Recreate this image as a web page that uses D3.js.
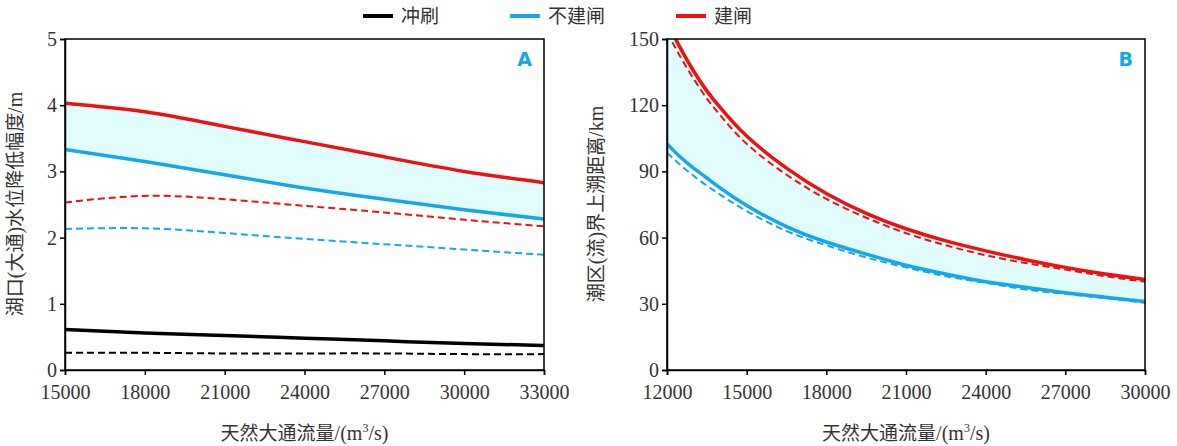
<!DOCTYPE html><html><head><meta charset="utf-8">
<script src="https://cdn.jsdelivr.net/npm/d3@7"></script>
<style>body{margin:0;background:#fff}</style></head><body>
<svg id="c" width="1177" height="446" font-family="Liberation Serif"></svg>
<script>
const xA=[15000,18000,21000,24000,27000,30000,33000];
const aRedSolid=[4.03,3.9,3.68,3.45,3.22,3.0,2.83];
const aBlueSolid=[3.33,3.15,2.95,2.75,2.58,2.42,2.28];
const aRedDash=[2.53,2.63,2.58,2.48,2.38,2.27,2.17];
const aBlueDash=[2.13,2.14,2.07,1.98,1.90,1.82,1.74];
const aBlackSolid=[0.61,0.56,0.52,0.48,0.44,0.40,0.37];
const aBlackDash=[0.26,0.26,0.25,0.25,0.25,0.24,0.24];
const xB=[12000,12500,13000,13500,14000,15000,16500,18000,19500,21000,22500,24000,25500,27000,28500,30000];
const bRedSolid=[157.5,146,135.5,126.5,119,106,91.5,80,71,64,58.5,54,50,46.5,43.5,41];
const bRedDash=[153,142,132,123,115.5,102.5,88.5,77.5,69,62,56.5,52,48.5,45.5,42.5,40];
const bBlueSolid=[102.5,96.5,91.5,87,82.5,74.5,65,58,52.5,47.5,43.5,40,37.5,35,33,31];
const bBlueDash=[98.5,93,88,83.5,79.5,72,63,56.5,51,46.5,42.5,39.5,36.5,34.5,32.5,30.5];
const ticksA=[15000,18000,21000,24000,27000,30000,33000];
const ticksB=[12000,15000,18000,21000,24000,27000,30000];
const RED="#ee1111",BLUE="#14a8e6",BLACK="#000";
const svg=d3.select("#c");
const cjk='"Noto Sans CJK SC",sans-serif';
function panel(o){
  const g=svg.append("g");
  const x=d3.scaleLinear().domain(o.xd).range([o.l,o.r]);
  const y=d3.scaleLinear().domain(o.yd).range([370,39]);
  const id="clip"+o.label;
  svg.append("clipPath").attr("id",id).append("rect").attr("x",o.l).attr("y",39).attr("width",o.r-o.l).attr("height",331);
  const pg=g.append("g").attr("clip-path",`url(#${id})`);
  const cur=d3.curveNatural;
  const area=d3.area().x((d,i)=>x(o.xs[i])).y0((d,i)=>y(o.band[1][i])).y1((d,i)=>y(o.band[0][i])).curve(cur);
  pg.append("path").attr("d",area(o.xs)).attr("fill","#e0fcfd");
  o.lines.forEach(L=>{
    const line=d3.line().x((d,i)=>x(o.xs[i])).y(d=>y(d)).curve(cur);
    pg.append("path").attr("d",line(L.v)).attr("fill","none").attr("stroke",L.c).attr("stroke-width",L.dash?2:3.5).attr("stroke-dasharray",L.dash?"7,4":null);
  });
  g.append("rect").attr("x",o.l).attr("y",39).attr("width",o.r-o.l).attr("height",331).attr("fill","none").attr("stroke","#000").attr("stroke-width",1.5);
  const ax=g.append("g").attr("transform","translate(0,370)").call(d3.axisBottom(x).tickValues(o.ticks).tickSize(5).tickFormat(d3.format("d")));
  const ay=g.append("g").attr("transform",`translate(${o.l},0)`).call(d3.axisLeft(y).tickValues(o.yt).tickSize(5).tickFormat(d3.format("d")));
  [ax,ay].forEach(a=>{a.attr("font-family",null).attr("font-size",null);a.select(".domain").attr("stroke","#000").attr("stroke-width",1.5);a.selectAll("line").attr("stroke","#000").attr("stroke-width",1.5);a.selectAll("text").style("font-family","'Liberation Serif',serif").style("font-size","20px").attr("fill","#333");});
  ax.selectAll("text").attr("dy","1.05em");
  const xl=g.append("text").attr("x",(o.l+o.r)/2).attr("y",440).attr("text-anchor","middle").attr("font-size",20).attr("fill","#333");
  xl.append("tspan").attr("font-family",cjk).attr("font-size",19).text("天然大通流量");xl.append("tspan").text("/(m");
  xl.append("tspan").attr("font-size",12).attr("dy",-8).text("3");xl.append("tspan").attr("dy",8).text("/s)");
  g.append("text").attr("transform",`translate(${o.yl},${204}) rotate(-90)`).attr("text-anchor","middle").attr("font-size",20).attr("fill","#333").html(o.ylabel);
  g.append("text").attr("x",o.r-12).attr("y",66).attr("text-anchor","end").attr("font-family","DejaVu Sans").attr("font-weight","bold").attr("font-size",19).attr("fill",BLUE).text(o.label);
}
panel({l:65,r:544,xd:[15000,33000],yd:[0,5],yt:[0,1,2,3,4,5],xs:xA,ticks:ticksA,yl:22,label:"A",
 band:[aRedSolid,aBlueSolid],
 ylabel:`<tspan font-family='${cjk}' font-size='19'>湖口</tspan>(<tspan font-family='${cjk}' font-size='19'>大通</tspan>)<tspan font-family='${cjk}' font-size='19'>水位降低幅度</tspan>/m`,
 lines:[{v:aBlackDash,c:BLACK,dash:1},{v:aBlueDash,c:BLUE,dash:1},{v:aRedDash,c:RED,dash:1},{v:aBlackSolid,c:BLACK},{v:aBlueSolid,c:BLUE},{v:aRedSolid,c:RED}]});
panel({l:667,r:1145,xd:[12000,30000],yd:[0,150],yt:[0,30,60,90,120,150],xs:xB,ticks:ticksB,yl:603,label:"B",
 band:[bRedSolid,bBlueSolid],
 ylabel:`<tspan font-family='${cjk}' font-size='19'>潮区</tspan>(<tspan font-family='${cjk}' font-size='19'>流</tspan>)<tspan font-family='${cjk}' font-size='19'>界上溯距离</tspan>/km`,
 lines:[{v:bBlueDash,c:BLUE,dash:1},{v:bRedDash,c:RED,dash:1},{v:bBlueSolid,c:BLUE},{v:bRedSolid,c:RED}]});
const leg=[["冲刷",BLACK,363],["不建闸",BLUE,510],["建闸",RED,676]];
leg.forEach(([t,c,x0])=>{svg.append("line").attr("x1",x0).attr("x2",x0+30).attr("y1",16).attr("y2",16).attr("stroke",c).attr("stroke-width",4);
 svg.append("text").attr("x",x0+38).attr("y",23).attr("font-family",cjk).attr("font-size",19).attr("fill","#333").text(t);});
</script></body></html>
